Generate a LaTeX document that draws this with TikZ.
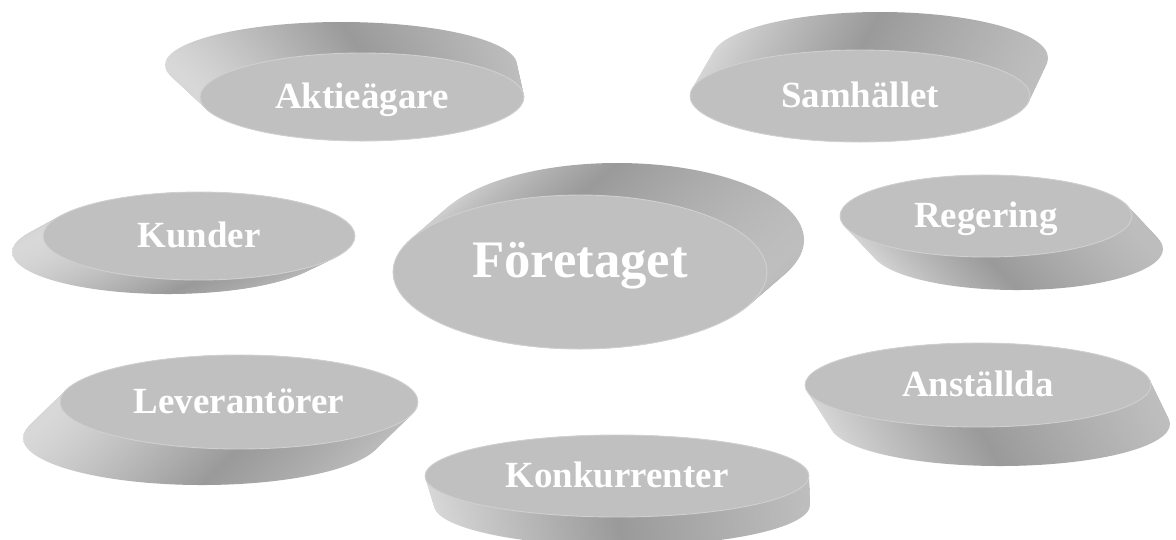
\documentclass[tikz,border=0pt]{standalone}
\usepackage{fontspec}
\setmainfont{Liberation Serif}
\usetikzlibrary{shapes.geometric}
\definecolor{facegray}{HTML}{C0C0C0}
\definecolor{rimgray}{HTML}{D0D0D0}
\definecolor{sidelight}{HTML}{D8D8D8}
\definecolor{sidedark}{HTML}{9A9A9A}
\definecolor{sidemid}{HTML}{BEBEBE}
\tikzset{
  %% disc parts
  side/.style  = {left color=sidelight, right color=sidemid, middle color=sidedark},
  face/.style  = {ellipse, draw=rimgray, line width=0.5pt, fill=facegray,
                  inner sep=0pt},
  %% labels
  lbl/.style   = {text=white, anchor=base, yshift=-6.8pt,
                  font=\bfseries\fontsize{21}{25}\selectfont},
  lblbig/.style= {text=white, anchor=base, yshift=-3.4pt,
                  font=\bfseries\fontsize{30}{36}\selectfont},
}
%% #1 name, #2-#5 back centre and radii, #6-#9 face centre and radii (px)
\newcommand{\pdisc}[9]{%
  \foreach \s in {0,0.04,...,1.001}{
    \path[side] ({#2+(#6-#2)*\s},{#3+(#7-#3)*\s})
      ellipse [x radius={#4+(#8-#4)*\s}, y radius={#5+(#9-#5)*\s}];
  }
  \node[face, minimum width=#8*0.04cm, minimum height=#9*0.04cm] (#1) at (#6,#7) {};
}
\begin{document}
\begin{tikzpicture}[x=0.02cm, y=-0.02cm]
\fill[white] (0,0) rectangle (1176,539);
\clip (0,0) rectangle (1176,539);

%% ============ outer ring ============
\pdisc{aktie}{341}{65}{176}{43}{362}{97}{162}{44}
\pdisc{samh}{880}{58}{168}{46}{860}{96}{170}{46}
\pdisc{kund}{168}{252}{156}{42}{199}{236}{156}{44}
\pdisc{reg}{1017}{249}{146}{41}{986}{216}{146}{41}
\pdisc{lev}{202}{438}{179}{47}{239}{402}{179}{47}
\pdisc{anst}{1000}{424}{170}{42}{978}{385}{173}{42}
\pdisc{konk}{622}{505}{188}{41}{617}{476}{192}{41}

%% ============ centre ============
\pdisc{foret}{617}{240}{187}{77}{580}{272}{187}{77}

%% ============ labels ============
\node[lbl] (taktie) at (aktie.center) {Aktieägare};
\node[lbl] (tsamh)  at (samh.center)  {Samhället};
\node[lbl] (tkund)  at (kund.center)  {Kunder};
\node[lbl] (treg)   at (reg.center)   {Regering};
\node[lbl] (tlev)   at (lev.center)   {Leverantörer};
\node[lbl] (tanst)  at (anst.center)  {Anställda};
\node[lbl] (tkonk)  at (konk.center)  {Konkurrenter};
\node[lblbig] (tforet) at (foret.center) {Företaget};

\end{tikzpicture}
\end{document}
